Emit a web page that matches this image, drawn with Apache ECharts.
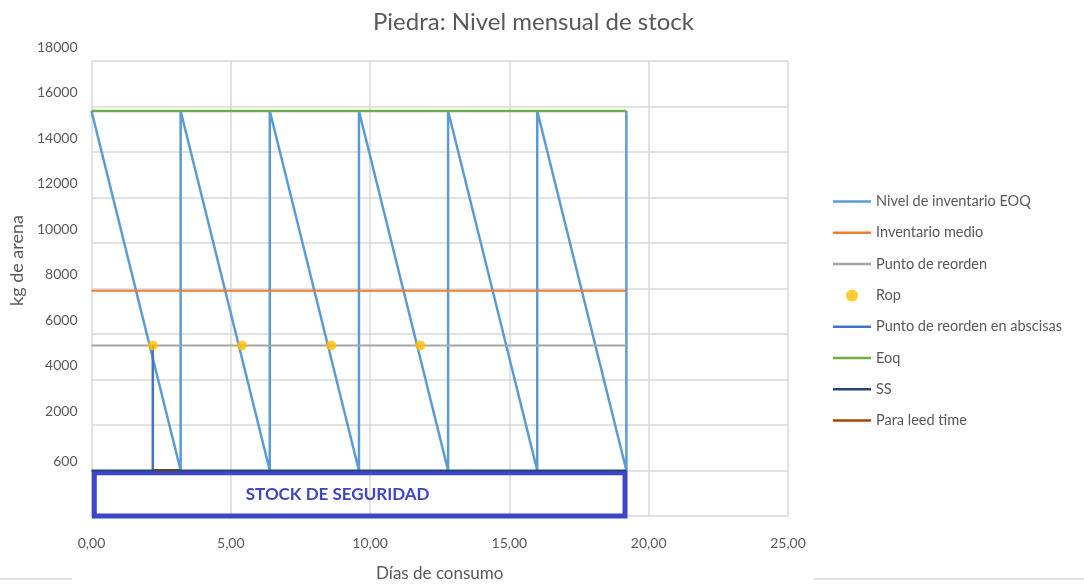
<!DOCTYPE html>
<html>
<head>
<meta charset="utf-8">
<script src="https://cdn.jsdelivr.net/npm/echarts@6/dist/echarts.min.js"></script>
<style>html,body{margin:0;padding:0;background:#fff;}#c{width:1084px;height:587px;}</style>
</head>
<body>
<div id="c"></div>
<script>
// ---- data ----
const xTickLabels = ['0,00', '5,00', '10,00', '15,00', '20,00', '25,00'];
const yTickLabels = ['', '600', '2000', '4000', '6000', '8000', '10000', '12000', '14000', '16000', '18000'];

const invX = [0, 3.2, 3.2, 6.4, 6.4, 9.6, 9.6, 12.8, 12.8, 16.0, 16.0, 19.2, 19.2];
const invY = [15800, 0, 15800, 0, 15800, 0, 15800, 0, 15800, 0, 15800, 0, 15800];

const avgX = [0, 19.2];
const avgY = [7900, 7900];

const ropLineX = [0, 19.2];
const ropLineY = [5500, 5500];

const ropX = [2.2, 5.4, 8.6, 11.8];
const ropY = [5500, 5500, 5500, 5500];

const ropVertX = [2.2, 2.2];
const ropVertY = [5500, 0];

const eoqX = [0, 19.2];
const eoqY = [15800, 15800];

const ssX = [0, 19.2];
const ssY = [0, 0];

const leadX = [2.2, 3.2];
const leadY = [0, 0];

const ssBoxFrom = [0.1, -2000];
const ssBoxTo = [19.15, -100];
const ssBoxLabel = 'STOCK DE SEGURIDAD';

// ---- build ----
const zip = (xs, ys) => xs.map((x, i) => [x, ys[i]]);
const font = 'Lato, "Open Sans", sans-serif';
const txt = '#595959';
const lineIcon = 'path://M0,0H38V2.5H0Z';

function lineSeries(name, xs, ys, color, width, z) {
  return {
    name, type: 'line', data: zip(xs, ys), symbol: 'none',
    lineStyle: { color, width }, itemStyle: { color }, z: z || 2, animation: false
  };
}

const series = [
  lineSeries('Nivel de inventario EOQ', invX, invY, '#5b9bd5', 2.5, 2),
  lineSeries('Inventario medio', avgX, avgY, '#ed7d31', 2, 2),
  lineSeries('Punto de reorden', ropLineX, ropLineY, '#a5a5a5', 2, 2),
  { name: 'Rop', type: 'scatter', data: zip(ropX, ropY), symbol: 'circle', symbolSize: 10,
    itemStyle: { color: '#ffc000' }, z: 6, animation: false },
  lineSeries('Punto de reorden en abscisas', ropVertX, ropVertY, '#4472c4', 2.5, 3),
  lineSeries('Eoq', eoqX, eoqY, '#70ad47', 2.5, 3),
  Object.assign(lineSeries('SS', ssX, ssY, '#264478', 2, 3), {
    markArea: {
      silent: true,
      itemStyle: { color: 'rgba(0,0,0,0)', borderColor: '#3d45c8', borderWidth: 5 },
      label: { show: true, position: 'inside', offset: [-22, 0], color: '#3d45c8',
               fontFamily: font, fontWeight: 'bold', fontSize: 17 },
      data: [[{ name: ssBoxLabel, coord: ssBoxFrom }, { coord: ssBoxTo }]]
    }
  }),
  lineSeries('Para leed time', leadX, leadY, '#9e480e', 3, 2)
];

const legendData = series.map(s => ({
  name: s.name,
  icon: s.type === 'scatter' ? 'circle' : lineIcon
}));

const chart = echarts.init(document.getElementById('c'), null, { renderer: 'canvas' });
chart.setOption({
  backgroundColor: '#fff',
  animation: false,
  textStyle: { fontFamily: font },
  title: {
    text: 'Piedra: Nivel mensual de stock', left: 368, top: 5,
    textStyle: { fontFamily: font, fontSize: 24, fontWeight: 'normal', color: txt }
  },
  legend: {
    orient: 'vertical', left: 828, top: 189, itemWidth: 38, itemHeight: 12, itemGap: 16.3,
    textStyle: { fontFamily: font, fontSize: 14.5, color: txt },
    data: legendData
  },
  grid: { left: 90, right: 296, top: 61, bottom: 66, containLabel: false },
  xAxis: {
    type: 'value', min: 0, max: 25, interval: 5,
    axisLine: { show: false }, axisTick: { show: false },
    splitLine: { lineStyle: { color: '#d9d9d9', width: 1.5 } },
    axisLabel: { margin: 20, color: txt, fontSize: 14, fontFamily: font,
      formatter: v => xTickLabels[Math.round(v / 5)] },
    name: 'Días de consumo', nameLocation: 'middle', nameGap: 49,
    nameTextStyle: { color: txt, fontSize: 17, fontFamily: font }
  },
  yAxis: {
    type: 'value', min: -2000, max: 18000, interval: 2000,
    axisLine: { show: false }, axisTick: { show: false },
    splitLine: { lineStyle: { color: '#d9d9d9', width: 1.5 } },
    axisLabel: {
      margin: 14, color: txt, fontSize: 14, fontFamily: font,
      formatter: v => {
        const s = yTickLabels[Math.round((v + 2000) / 2000)];
        if (!s) return '';
        return s === '600' ? '{b|' + s + '}' : '{a|' + s + '}';
      },
      rich: {
        a: { padding: [0, 0, 28, 0], color: txt, fontSize: 14, fontFamily: font },
        b: { padding: [0, 0, 18, 0], color: txt, fontSize: 14, fontFamily: font }
      }
    },
    name: 'kg de arena', nameLocation: 'middle', nameGap: 62,
    nameTextStyle: { color: txt, fontSize: 18, fontFamily: font, padding: [0, 0, 0, 56] }
  },
  graphic: [
    { type: 'rect', left: 0, top: 578, shape: { width: 72, height: 2 }, style: { fill: '#e3e3e3' }, silent: true },
    { type: 'rect', left: 814, top: 578, shape: { width: 270, height: 2 }, style: { fill: '#e3e3e3' }, silent: true }
  ],
  series
});
</script>
</body>
</html>
